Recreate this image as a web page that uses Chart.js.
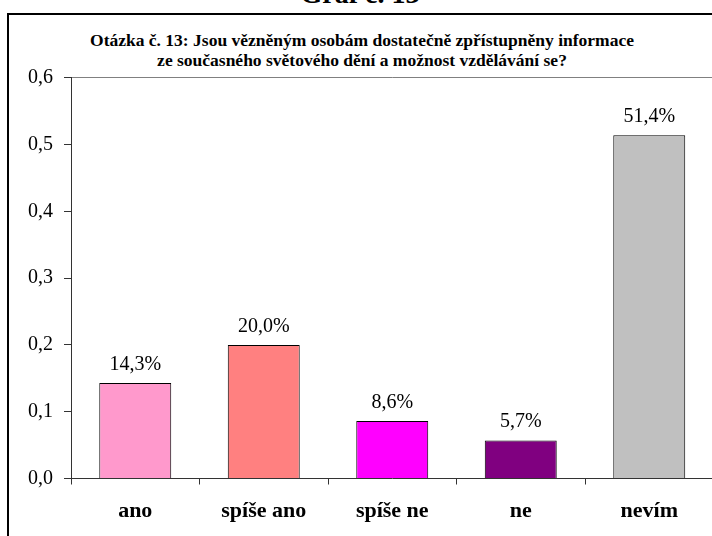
<!DOCTYPE html>
<html>
<head>
<meta charset="utf-8">
<script src="https://cdn.jsdelivr.net/npm/chart.js@4"></script>
<style>
html,body{margin:0;padding:0;width:712px;height:536px;overflow:hidden;background:#fff;}
#wrap{position:absolute;left:0;top:0;width:740px;height:560px;}
#box{position:absolute;left:7px;top:13px;width:760px;height:600px;border:2px solid #000;box-sizing:border-box;}
#graf{position:absolute;left:0;width:720px;top:-22px;text-align:center;font:bold 28px "Liberation Serif";color:#000;}
#title{position:absolute;left:0;width:724px;top:30px;text-align:center;font:bold 17.5px/20px "Liberation Serif";color:#000;}
canvas{position:absolute;left:0;top:0;}
</style>
</head>
<body>
<div id="graf">Graf č. 13</div>
<div id="box"></div>
<div id="title">Otázka č. 13: Jsou vězněným osobám dostatečně zpřístupněny informace<br>ze současného světového dění a možnost vzdělávání se?</div>
<div id="wrap"><canvas id="c" width="740" height="560"></canvas></div>
<script>
const categories = ["ano", "spíše ano", "spíše ne", "ne", "nevím"];
const values = [0.143, 0.200, 0.086, 0.057, 0.514];
const valueLabels = ["14,3%", "20,0%", "8,6%", "5,7%", "51,4%"];
const barColors = ["#FF99CC", "#FF8080", "#FF00FF", "#800080", "#C0C0C0"];
const yTicks = [0, 0.1, 0.2, 0.3, 0.4, 0.5, 0.6];

const labelPlugin = {
  id: 'valLabels',
  afterDatasetsDraw(chart) {
    const ctx = chart.ctx;
    const meta = chart.getDatasetMeta(0);
    ctx.save();
    ctx.font = '20px "Liberation Serif"';
    ctx.fillStyle = '#000';
    ctx.textAlign = 'center';
    ctx.textBaseline = 'alphabetic';
    meta.data.forEach((bar, i) => {
      ctx.fillText(valueLabels[i], bar.x, bar.y - 13);
    });
    ctx.restore();
  }
};

new Chart(document.getElementById('c'), {
  type: 'bar',
  data: {
    labels: categories,
    datasets: [{
      data: values,
      backgroundColor: barColors,
      borderColor: '#000',
      borderWidth: 1,
      categoryPercentage: 1,
      barPercentage: 0.56
    }]
  },
  options: {
    responsive: false,
    animation: false,
    events: [],
    layout: { padding: { left: 0, right: 26.5, top: 77.7, bottom: 0 } },
    plugins: { legend: { display: false }, tooltip: { enabled: false } },
    scales: {
      x: {
        afterFit(s) { s.height = 560 - 478.5; },
        grid: { offset: true, drawOnChartArea: false, tickLength: 6, color: '#333', lineWidth: 1 },
        border: { display: true, color: '#333', width: 1 },
        ticks: { color: '#000', padding: 14, font: { family: 'Liberation Serif', size: 22, weight: 'bold' } }
      },
      y: {
        min: 0, max: 0.6,
        afterFit(s) { s.width = 71; },
        afterBuildTicks(s) { s.ticks = yTicks.map(v => ({ value: v })); },
        grid: {
          drawOnChartArea: true,
          color: c => (c.tick && c.tick.value === 0.6) ? '#808080' : 'rgba(0,0,0,0)',
          tickColor: '#333',
          tickLength: 7
        },
        border: { display: true, color: '#333', width: 1 },
        ticks: {
          color: '#000', padding: 11,
          font: { family: 'Liberation Serif', size: 20 },
          callback: v => v.toFixed(1).replace('.', ',')
        }
      }
    }
  },
  plugins: [labelPlugin]
});
</script>
</body>
</html>
